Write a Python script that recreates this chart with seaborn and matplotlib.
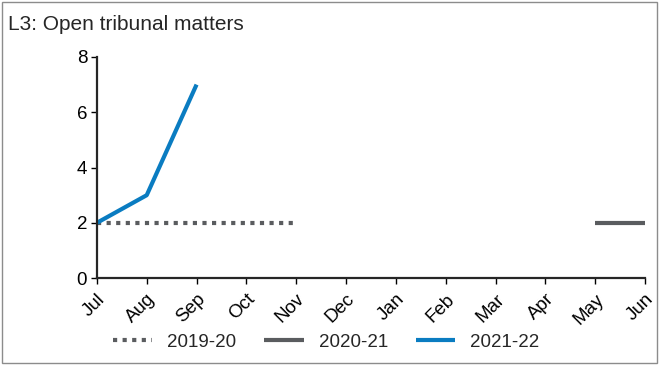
import numpy as np
import pandas as pd
import seaborn as sns
import matplotlib.pyplot as plt

##### Data #####
months = ['Jul', 'Aug', 'Sep', 'Oct', 'Nov', 'Dec', 'Jan', 'Feb', 'Mar', 'Apr', 'May', 'Jun']
values_1920 = [2, 2, 2, 2, 2, None, None, None, None, None, None, None]
values_2021 = [None, None, None, None, None, None, None, None, None, None, 2, 2]
values_2122 = [2, 3, 7, None, None, None, None, None, None, None, None, None]

series = {'2019-20': values_1920, '2020-21': values_2021, '2021-22': values_2122}
colors = {'2019-20': '#5a5c5f', '2020-21': '#5a5c5f', '2021-22': '#0a7cc1'}

rows = []
for label, vals in series.items():
	for i, v in enumerate(vals):
		rows.append({'pos': i, 'value': v, 'year': label})
df = pd.DataFrame(rows).dropna()

##### Plot #####
sns.set_style('ticks')
plt.rcParams['font.family'] = ['Liberation Sans', 'DejaVu Sans']

fig = plt.figure(figsize=(6.59, 3.65), dpi=100)
ax = fig.add_axes([0.147, 0.238, 0.832, 0.606])

for label in series:
	sub = df[df['year'] == label]
	sns.lineplot(data=sub, x='pos', y='value', ax=ax, color=colors[label], lw=3, label=label,
		linestyle=(0, (1, 1.3)) if label == '2019-20' else '-', solid_capstyle='butt', dash_capstyle='butt')

ax.set_xlim(0, 11)
ax.set_ylim(0, 8)
ax.set_yticks([0, 2, 4, 6, 8])
ax.set_xticks(range(len(months)))
ax.set_xticklabels(months, rotation=45, ha='right', rotation_mode='anchor')
ax.tick_params(labelsize=13.5, length=4, width=1, colors='black', pad=3)
ax.tick_params(axis='x', pad=5)
ax.set(xlabel='', ylabel='')
sns.despine(ax=ax)
ax.spines['left'].set_linewidth(1.6)
ax.spines['bottom'].set_linewidth(1.6)

leg = ax.legend(loc='center', bbox_to_anchor=(0.495, 0.063), bbox_transform=fig.transFigure, ncol=3,
	frameon=False, fontsize=13.5, handlelength=2.1, columnspacing=1.5, handletextpad=0.8)

fig.text(0.012, 0.918, 'L3: Open tribunal matters', fontsize=15, ha='left', va='baseline')
fig.patches.append(plt.Rectangle((0.003, 0.005), 0.994, 0.99, transform=fig.transFigure,
	fill=False, edgecolor='#8c8c8c', lw=1))

fig.savefig('out.png', dpi=100)
